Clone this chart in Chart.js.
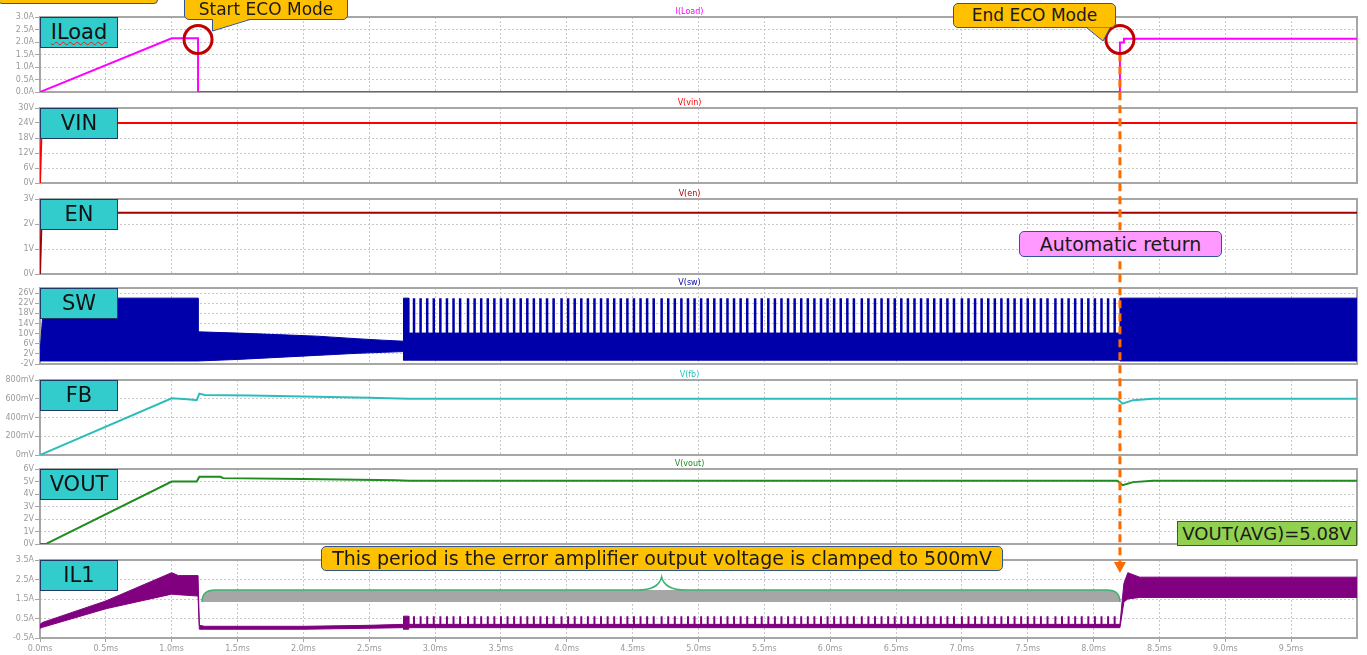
<!DOCTYPE html>
<html>
<head>
<meta charset="utf-8">
<script src="https://cdn.jsdelivr.net/npm/chart.js@4.4.1/dist/chart.umd.min.js"></script>
<style>
html, body { margin: 0; padding: 0; background: #fff; overflow: hidden; }
body { width: 1367px; height: 655px; position: relative; font-family: "DejaVu Sans", Verdana, sans-serif; }
canvas.panel { position: absolute; left: 0; }
#overlay { position: absolute; left: 0; top: 0; z-index: 2; pointer-events: none; }
.tag { position: absolute; left: 40px; width: 78px; height: 31px; box-sizing: border-box;
       background: #33cccc; border: 1.5px solid #1f3864; z-index: 4; font-size: 21px; color: #111;
       text-align: center; line-height: 28px; }
.tag.wavy { text-decoration: underline wavy #e02020; text-decoration-thickness: 1px; text-underline-offset: 2px; }
.note { position: absolute; box-sizing: border-box; border: 1px solid #2f5597; border-radius: 5px;
        z-index: 4; color: #1a1a1a; text-align: center; white-space: nowrap; }
.yellow { background: #ffc000; }
#tails { position: absolute; left: 0; top: 0; z-index: 5; pointer-events: none; }
</style>
</head>
<body>
<canvas class="panel" id="c0" width="1367"></canvas>
<canvas class="panel" id="c1" width="1367"></canvas>
<canvas class="panel" id="c2" width="1367"></canvas>
<canvas class="panel" id="c3" width="1367"></canvas>
<canvas class="panel" id="c4" width="1367"></canvas>
<canvas class="panel" id="c5" width="1367"></canvas>
<canvas class="panel" id="c6" width="1367"></canvas>
<canvas id="overlay" width="1367" height="655"></canvas>

<div class="tag wavy" id="t0">ILoad</div>
<div class="tag" id="t1">VIN</div>
<div class="tag" id="t2">EN</div>
<div class="tag" id="t3">SW</div>
<div class="tag" id="t4">FB</div>
<div class="tag" id="t5">VOUT</div>
<div class="tag" id="t6">IL1</div>

<div class="note yellow" style="left:-2px;top:-20px;width:160px;height:24px;border-radius:0 0 4px 4px;"></div>
<div class="note yellow" style="left:184px;top:-4px;width:164px;height:24px;font-size:17px;line-height:25px;border-radius:0 0 5px 5px;">Start ECO Mode</div>
<div class="note yellow" style="left:953px;top:3px;width:163px;height:25px;font-size:17px;line-height:23px;">End ECO Mode</div>
<div class="note" style="left:1019px;top:231px;width:203px;height:26px;font-size:19px;line-height:24px;background:#ff99ff;">Automatic return</div>
<div class="note" style="left:1177px;top:521px;width:180px;height:25px;font-size:18px;line-height:23px;background:#92d050;border-color:#3b5e22;border-radius:0;">VOUT(AVG)=5.08V</div>
<div class="note yellow" style="left:321px;top:546px;width:682px;height:25px;font-size:19px;line-height:23px;">This period is the error amplifier output voltage is clamped to 500mV</div>

<svg id="tails" width="1367" height="655">
  <polygon points="212.5,19 250,19 212.5,31" fill="#ffc000"/>
  <polyline points="212.5,19.5 212.5,31 250,19.5" fill="none" stroke="#2f5597" stroke-width="1"/>
  <polygon points="1087,27.5 1110,27.5 1103,41" fill="#ffc000"/>
  <polyline points="1087,28 1103,41 1110,28" fill="none" stroke="#2f5597" stroke-width="1"/>
</svg>

<script>
// time axis (ms)
const xTicks = [0, 0.5, 1, 1.5, 2, 2.5, 3, 3.5, 4, 4.5, 5, 5.5, 6, 6.5, 7, 7.5, 8, 8.5, 9, 9.5];

// I(Load)
const iloadTime = [0, 1.0, 1.2, 1.2, 8.2, 8.2, 8.23, 8.23, 10];
const iloadAmps = [0, 2.15, 2.15, 0, 0, 1.98, 1.98, 2.13, 2.13];
const iloadTicks = [0, 0.5, 1, 1.5, 2, 2.5, 3];

// V(vin)
const vinTime = [0, 0.01, 0.025, 10];
const vinVolts = [0, 18, 24, 24];
const vinTicks = [0, 6, 12, 18, 24, 30];

// V(en)
const enTime = [0, 0.01, 0.02, 10];
const enVolts = [0, 1.8, 2.45, 2.45];
const enTicks = [0, 1, 2, 3];

// V(sw) switching envelope (top / bottom of the dense band)
const swTime = [0, 0.03, 1.2, 1.2, 1.5, 1.8, 2.1, 2.4, 2.6, 2.76, 2.76, 2.8, 2.8, 8.2, 8.2, 10];
const swHigh = [2, 24, 24, 10.7, 10.2, 9.6, 9.0, 8.0, 7.4, 7.0, 24, 24, 10.2, 10.2, 24, 24];
const swLow  = [-0.8, -0.8, -0.8, -0.8, -0.2, 0.6, 1.4, 2.2, 2.6, 2.9, -0.5, -0.5, -0.5, -0.5, -0.8, -0.8];
const swTicks = [-2, 2, 6, 10, 14, 18, 22, 26];

// pulse times during ECO mode (ms)
const ecoPulses = [2.84, 2.89, 2.94, 2.99, 3.04, 3.09, 3.14, 3.19, 3.25, 3.30, 3.35, 3.40, 3.45, 3.50,
  3.55, 3.60, 3.65, 3.70, 3.75, 3.80, 3.85, 3.90, 3.96, 4.01, 4.06, 4.11, 4.16, 4.21, 4.26, 4.31,
  4.36, 4.41, 4.46, 4.51, 4.56, 4.61, 4.66, 4.72, 4.77, 4.82, 4.87, 4.92, 4.97, 5.02, 5.07, 5.12,
  5.17, 5.22, 5.27, 5.32, 5.37, 5.43, 5.48, 5.53, 5.58, 5.63, 5.68, 5.73, 5.78, 5.83, 5.88, 5.93,
  5.98, 6.03, 6.08, 6.13, 6.18, 6.24, 6.29, 6.34, 6.39, 6.44, 6.49, 6.54, 6.59, 6.64, 6.69, 6.74,
  6.79, 6.84, 6.89, 6.94, 7.00, 7.05, 7.10, 7.15, 7.20, 7.25, 7.30, 7.35, 7.40, 7.45, 7.50, 7.55,
  7.60, 7.65, 7.71, 7.76, 7.81, 7.86, 7.91, 7.96, 8.01, 8.06, 8.11, 8.16];
const swPulse = [10.2, 24];
const il1Pulse = [0.1, 0.62];

// V(fb)
const fbTime = [0, 1.0, 1.12, 1.19, 1.21, 1.25, 1.6, 2.0, 2.5, 2.8, 8.18, 8.22, 8.3, 8.45, 10];
const fbMilliVolts = [0, 605, 595, 585, 655, 640, 635, 625, 610, 600, 600, 548, 585, 600, 600];
const fbTicks = [0, 200, 400, 600, 800];

// V(vout)
const voutTime = [0, 0.05, 1.0, 1.19, 1.21, 1.37, 1.39, 2.0, 2.7, 2.8, 8.18, 8.22, 8.3, 8.45, 10];
const voutVolts = [0, 0.03, 5.0, 5.0, 5.38, 5.38, 5.27, 5.2, 5.1, 5.06, 5.06, 4.7, 4.95, 5.06, 5.06];
const voutTicks = [0, 1, 2, 3, 4, 5, 6];

// I(L1) ripple envelope
const il1Time = [0, 0.02, 0.5, 1.0, 1.05, 1.2, 1.21, 1.25, 2.0, 2.5, 2.76, 2.76, 2.8, 2.8, 8.2, 8.23, 8.26, 8.35, 10];
const il1High = [0.2, 0.3, 1.4, 2.85, 2.7, 2.7, 0.15, 0.1, 0.1, 0.15, 0.2, 0.62, 0.62, 0.2, 0.2, 2.3, 2.85, 2.62, 2.62];
const il1Low  = [0.0, 0.05, 1.0, 1.75, 1.72, 1.65, -0.05, -0.05, -0.05, 0.0, 0.03, -0.05, -0.05, 0.03, 0.03, 1.35, 1.5, 1.58, 1.58];
const il1Ticks = [-0.5, 0.5, 1.5, 2.5, 3.5];

// annotation anchors
const ecoMarks = [1.2, 8.2];      // ms, circled on I(Load)
const circleLevel = 2.1;          // A on I(Load)
const arrowFrom = 1.55;           // A on I(Load)
const arrowTo = 2.83;             // A on I(L1)
const braceSpan = [1.23, 8.2];    // ms
const bracePeak = 4.72;           // ms
const braceLevels = [1.35, 1.96, 2.63]; // A on I(L1): bottom, top, peak

// panel layout
const panelTops = [17, 108, 199, 288, 380, 469, 560];
const panelHeights = [75, 75, 75, 76, 75, 75, 78];
const PAD = 10;

Chart.defaults.font.family = '"DejaVu Sans", Verdana, sans-serif';
Chart.defaults.font.size = 8;
Chart.defaults.color = '#9a9a9a';

const frameAndTitle = {
  id: 'frameAndTitle',
  beforeDatasetsDraw(chart) {
    const a = chart.chartArea, ctx = chart.ctx;
    ctx.save();
    ctx.strokeStyle = '#a6a6a6';
    ctx.lineWidth = 2;
    ctx.strokeRect(a.left, a.top, a.right - a.left, a.bottom - a.top);
    ctx.restore();
  },
  afterDraw(chart, args, opts) {
    if (!opts.text) return;
    const a = chart.chartArea, ctx = chart.ctx;
    ctx.save();
    ctx.fillStyle = opts.color;
    ctx.font = '8px "DejaVu Sans"';
    ctx.textAlign = 'center';
    ctx.textBaseline = 'alphabetic';
    ctx.fillText(opts.text, (a.left + a.right) / 2 - 9, a.top - 3);
    ctx.restore();
  }
};

function pts(time, vals) {
  return time.map((t, i) => ({ x: t, y: vals[i] }));
}
function line(time, vals, color, width) {
  return { data: pts(time, vals), borderColor: color, borderWidth: width, pointRadius: 0, fill: false, tension: 0 };
}
function band(time, hi, lo, color) {
  return [
    { data: pts(time, hi), borderColor: color, borderWidth: 1, pointRadius: 0, fill: false, tension: 0 },
    { data: pts(time, lo), borderColor: color, borderWidth: 1, pointRadius: 0, fill: '-1', backgroundColor: color, tension: 0 }
  ];
}
function pulses(times, range, color, width) {
  const data = times.flatMap(t => [{ x: t, y: range[0] }, { x: t, y: range[1] }, { x: t, y: null }]);
  return { data, borderColor: color, borderWidth: width, pointRadius: 0, fill: false, spanGaps: false, tension: 0 };
}

function makeChart(i, datasets, yMin, yMax, yTicks, fmt, title, color, showX) {
  const canvas = document.getElementById('c' + i);
  const top = panelTops[i] - PAD;
  const height = PAD + panelHeights[i] + (showX ? 17 : PAD);
  canvas.style.top = top + 'px';
  canvas.height = height;
  return new Chart(canvas, {
    type: 'line',
    data: { datasets },
    options: {
      responsive: false,
      animation: false,
      devicePixelRatio: 1,
      layout: { padding: { top: PAD, bottom: showX ? 0 : PAD, left: 0, right: 10 } },
      plugins: { legend: { display: false }, tooltip: { enabled: false }, frameAndTitle: { text: title, color } },
      scales: {
        x: {
          type: 'linear', min: 0, max: 10, offset: false,
          afterBuildTicks: s => { s.ticks = xTicks.map(v => ({ value: v })); },
          afterFit: s => { s.height = showX ? 17 : 0; },
          ticks: { display: showX, autoSkip: false, maxRotation: 0, padding: 2, callback: v => v.toFixed(1) + 'ms' },
          grid: { color: '#c8c8c8', drawTicks: showX, tickLength: 4, tickColor: '#a6a6a6', tickBorderDash: [], offset: false },
          border: { display: false, dash: [2, 2] }
        },
        y: {
          min: yMin, max: yMax,
          afterBuildTicks: s => { s.ticks = yTicks.map(v => ({ value: v })); },
          afterFit: s => { s.width = 40; },
          ticks: { padding: 1, autoSkip: false, callback: fmt },
          grid: { color: '#c8c8c8', tickLength: 5, tickColor: '#a6a6a6', tickBorderDash: [] },
          border: { display: false, dash: [2, 2] }
        }
      }
    },
    plugins: [frameAndTitle]
  });
}

const MAGENTA = '#ff00ff', RED = '#ff0000', DARKRED = '#a00000', BLUE = '#0000aa',
      TEAL = '#2cbcbc', GREEN = '#1e8c1e', PURPLE = '#800080';

const charts = [
  makeChart(0, [line(iloadTime, iloadAmps, MAGENTA, 2)], 0, 3, iloadTicks, v => v.toFixed(1) + 'A', 'I(Load)', MAGENTA, false),
  makeChart(1, [line(vinTime, vinVolts, RED, 2)], 0, 30, vinTicks, v => v + 'V', 'V(vin)', RED, false),
  makeChart(2, [line(enTime, enVolts, DARKRED, 2)], 0, 3, enTicks, v => v + 'V', 'V(en)', DARKRED, false),
  makeChart(3, [...band(swTime, swHigh, swLow, BLUE), pulses(ecoPulses, swPulse, BLUE, 2.5)], -2, 28, swTicks, v => v + 'V', 'V(sw)', BLUE, false),
  makeChart(4, [line(fbTime, fbMilliVolts, TEAL, 2)], 0, 800, fbTicks, v => v + 'mV', 'V(fb)', TEAL, false),
  makeChart(5, [line(voutTime, voutVolts, GREEN, 2)], 0, 6, voutTicks, v => v + 'V', 'V(vout)', GREEN, false),
  makeChart(6, [...band(il1Time, il1High, il1Low, PURPLE), pulses(ecoPulses, il1Pulse, PURPLE, 2)], -0.5, 3.5, il1Ticks, v => v.toFixed(1) + 'A', 'I(L1)', PURPLE, true)
];

// name tags aligned with each panel
charts.forEach((c, i) => {
  document.getElementById('t' + i).style.top = (panelTops[i] - PAD + c.chartArea.top) + 'px';
});

// cross-panel annotations
const xPx = t => charts[6].scales.x.getPixelForValue(t);
const yPx = (i, v) => panelTops[i] - PAD + charts[i].scales.y.getPixelForValue(v);
const g = document.getElementById('overlay').getContext('2d');

// brace over the clamped period
const bl = xPx(braceSpan[0]), br = xPx(braceSpan[1]), bm = xPx(bracePeak);
const yB = yPx(6, braceLevels[0]), yT = yPx(6, braceLevels[1]), yP = yPx(6, braceLevels[2]);
g.fillStyle = '#a6a6a6';
g.beginPath();
g.moveTo(bl, yB);
g.quadraticCurveTo(bl, yT, bl + 13, yT);
g.lineTo(br - 13, yT);
g.quadraticCurveTo(br, yT, br, yB);
g.closePath();
g.fill();
g.strokeStyle = '#3cb371';
g.lineWidth = 1.5;
g.beginPath();
g.moveTo(bl, yB);
g.quadraticCurveTo(bl, yT, bl + 13, yT);
g.lineTo(bm - 24, yT);
g.quadraticCurveTo(bm - 3, yT, bm, yP);
g.quadraticCurveTo(bm + 3, yT, bm + 24, yT);
g.lineTo(br - 13, yT);
g.quadraticCurveTo(br, yT, br, yB);
g.stroke();

// dashed arrow at the end of ECO mode
const ax = xPx(ecoMarks[1]);
const ay0 = yPx(0, arrowFrom), ay1 = yPx(6, arrowTo);
g.strokeStyle = '#ff6a00';
g.lineWidth = 3;
g.setLineDash([8, 5]);
g.beginPath();
g.moveTo(ax, ay0);
g.lineTo(ax, ay1 - 10);
g.stroke();
g.setLineDash([]);
g.fillStyle = '#ff6a00';
g.beginPath();
g.moveTo(ax - 6, ay1 - 11);
g.lineTo(ax + 6, ay1 - 11);
g.lineTo(ax, ay1);
g.closePath();
g.fill();

// red circles
g.strokeStyle = '#c00000';
g.lineWidth = 3;
ecoMarks.forEach(t => {
  g.beginPath();
  g.arc(xPx(t), yPx(0, circleLevel), 14, 0, Math.PI * 2);
  g.stroke();
});
</script>
</body>
</html>
